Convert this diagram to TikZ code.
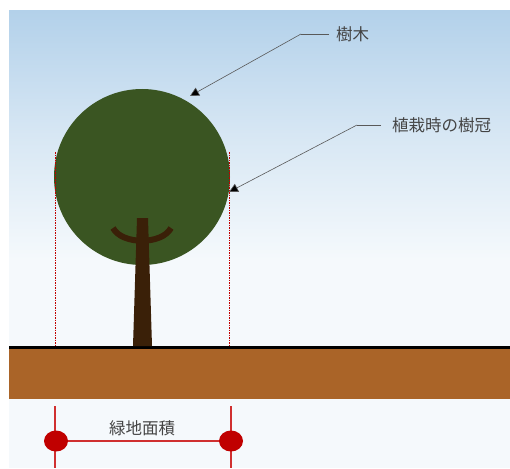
\documentclass[tikz,border=0pt]{standalone}
\usepackage{fontspec}
\newfontfamily\jpfont{Noto Sans CJK JP}
\usetikzlibrary{arrows.meta,shapes.geometric}
\definecolor{skytop}{HTML}{B3D1EA}
\definecolor{skybot}{HTML}{F5F9FC}
\definecolor{soil}{HTML}{AA6428}
\definecolor{crown}{HTML}{3A5522}
\definecolor{bark}{HTML}{3A2008}
\definecolor{redmark}{HTML}{C00000}
\definecolor{linered}{HTML}{D03030}
\definecolor{txt}{HTML}{444444}
\tikzset{
  label/.style={font=\jpfont\fontsize{16.5}{19}\selectfont, text=txt, inner sep=0pt, anchor=west},
  leader/.style={draw=black!65, line width=0.6pt},
  leadtip/.style={-{Triangle[length=9pt,width=9pt,fill=black]}, draw=black!65, line width=0.6pt},
  extent/.style={draw=redmark, line width=0.9pt, dash pattern=on 1.5pt off 1pt},
  dimline/.style={draw=linered, line width=1.1pt},
  dot/.style={fill=redmark, draw=none, ellipse, minimum width=24pt, minimum height=21pt, inner sep=0pt}
}
\begin{document}
\begin{tikzpicture}[x=1pt,y=-1pt]
\useasboundingbox (0,0) rectangle (510,468);
% sky and lower background
\fill[skybot] (9,11) rectangle (510,468);
\shade[top color=skytop, bottom color=skybot, middle color=skytop!45!skybot] (9,11) rectangle (510,260);
% soil
\fill[soil] (9,348) rectangle (510,399);
\draw[line width=3pt] (9,347) -- (510,347);
% crown
\fill[crown] (142,177) circle[radius=88];
% trunk and branches
\fill[bark] (137,218) -- (148,218) -- (152,346) -- (133,346) -- cycle;
\draw[bark, line width=6pt] (113,228) .. controls (122,245) and (162,245) .. (171,228);
% crown extent at planting
\draw[extent] (55,152) -- (55,346);
\draw[extent] (229,152) -- (229,346);
% labels with leaders
\node[label] (tree) at (336,34) {樹木};
\coordinate (t1) at (329,34);
\coordinate (t2) at (301,34);
\coordinate (ta) at (190,96);
\draw[leader] (t1) -- (t2);
\draw[leadtip] (t2) -- (ta);
\node[label] (crownlab) at (392,125) {植栽時の樹冠};
\coordinate (c1) at (381,125);
\coordinate (c2) at (357,125);
\coordinate (ca) at (229,192);
\draw[leader] (c1) -- (c2);
\draw[leadtip] (c2) -- (ca);
% green area dimension
\draw[dimline] (55,406) -- (55,468);
\draw[dimline] (231,406) -- (231,468);
\node[dot] (da) at (56,441) {};
\node[dot] (db) at (231,441) {};
\draw[dimline] (da) -- (db);
\node[label, anchor=center] (area) at (142,428) {緑地面積};
\end{tikzpicture}
\end{document}
